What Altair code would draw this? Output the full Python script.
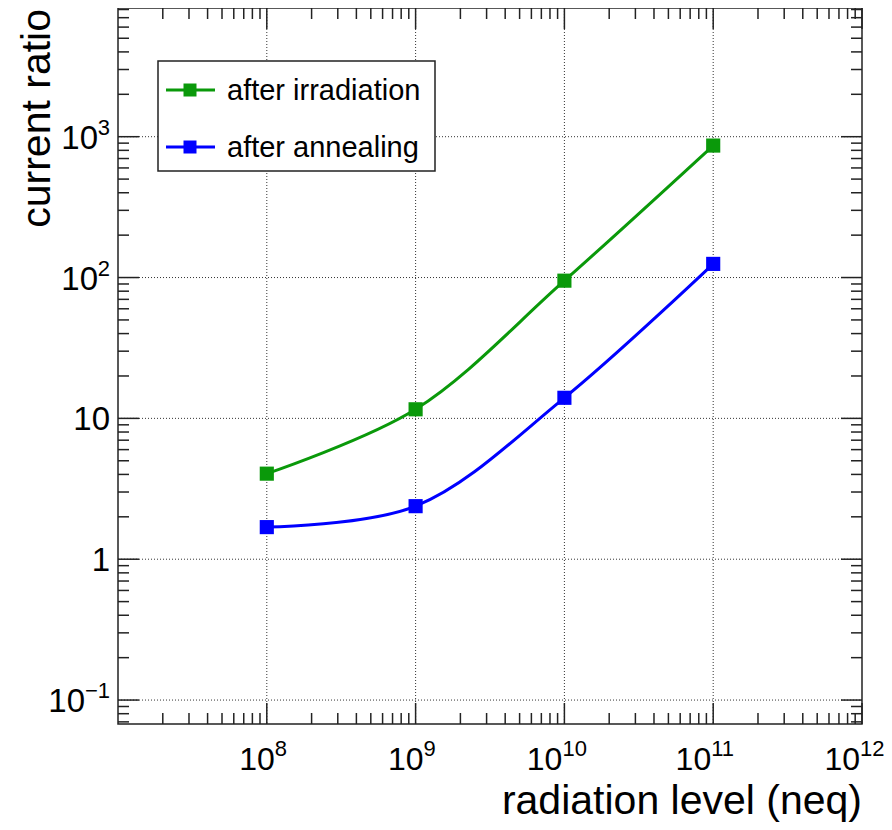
import altair as alt
import pandas as pd

# ---- data ----
radiation_level = [1e8, 1e9, 1e10, 1e11]
after_irradiation = [4.05, 11.6, 95.0, 865.0]
after_annealing = [1.69, 2.38, 14.0, 125.0]
series_names = ["after irradiation", "after annealing"]
series_colors = ["#0a990a", "#0000ff"]

x_major = [1e8, 1e9, 1e10, 1e11, 1e12]
x_tick_base = ["10", "10", "10", "10", "10"]
x_tick_exp = ["8", "9", "10", "11", "12"]
y_major = [0.1, 1, 10, 100, 1000]
y_tick_base = ["10", "1", "10", "10", "10"]
y_tick_exp = ["−1", "", "", "2", "3"]
x_title = "radiation level (neq)"
y_title = "current ratio"

# ---- style / layout ----
X_DOMAIN = [1e7, 1e12]
Y_DOMAIN = [0.0676, 8200]
W, H = 744, 716
FONT = "Liberation Sans"
FRAME = "#222222"
MAJ, MIN = 21, 11
XBASE_FS, YBASE_FS, EXP_FS = 32, 33, 22
EXP_RAISE = -14

x_minor = [k * 10.0 ** e for e in range(7, 12) for k in range(2, 10)]
y_minor = [k * 10.0 ** e for e in range(-2, 4) for k in range(2, 10)
           if Y_DOMAIN[0] <= k * 10.0 ** e <= Y_DOMAIN[1]]

xs = alt.Scale(type="log", domain=X_DOMAIN, nice=False)
ys = alt.Scale(type="log", domain=Y_DOMAIN, nice=False)


def X(f):
    return alt.X(f, type="quantitative", scale=xs, axis=None)


def Y(f):
    return alt.Y(f, type="quantitative", scale=ys, axis=None)


rows = []
for name, vals in zip(series_names, [after_irradiation, after_annealing]):
    for xv, yv in zip(radiation_level, vals):
        rows.append({"series": name, "radiation": xv, "ratio": yv})
df = pd.DataFrame(rows)

layers = []

# grid
layers.append(
    alt.Chart(pd.DataFrame({"v": x_major[:-1]})).mark_rule(
        color="#333333", strokeWidth=1, strokeDash=[1, 2]
    ).encode(x=X("v"), y=alt.value(0), y2=alt.value(H))
)
layers.append(
    alt.Chart(pd.DataFrame({"v": y_major})).mark_rule(
        color="#333333", strokeWidth=1, strokeDash=[1, 2]
    ).encode(y=Y("v"), x=alt.value(0), x2=alt.value(W))
)

# inward ticks on all four sides
for vals, ln in [(x_major, MAJ), (x_minor, MIN)]:
    d = pd.DataFrame({"v": vals})
    layers.append(alt.Chart(d).mark_rule(color=FRAME, strokeWidth=1.5).encode(
        x=X("v"), y=alt.value(H), y2=alt.value(H - ln)))
    layers.append(alt.Chart(d).mark_rule(color=FRAME, strokeWidth=1.5).encode(
        x=X("v"), y=alt.value(0), y2=alt.value(ln)))
for vals, ln in [(y_major, MAJ), (y_minor, MIN)]:
    d = pd.DataFrame({"v": vals})
    layers.append(alt.Chart(d).mark_rule(color=FRAME, strokeWidth=1.5).encode(
        y=Y("v"), x=alt.value(0), x2=alt.value(ln)))
    layers.append(alt.Chart(d).mark_rule(color=FRAME, strokeWidth=1.5).encode(
        y=Y("v"), x=alt.value(W), x2=alt.value(W - ln)))

color = alt.Color("series:N", scale=alt.Scale(domain=series_names, range=series_colors), legend=None)

layers.append(
    alt.Chart(df).mark_line(interpolate="catmull-rom", strokeWidth=3).encode(
        x=X("radiation"), y=Y("ratio"), color=color, detail="series:N")
)
layers.append(
    alt.Chart(df).mark_square(size=200, opacity=1, filled=True).encode(
        x=X("radiation"), y=Y("ratio"), color=color)
)

# x tick labels: "10" + raised exponent, whole label centred on the tick
xlab = pd.DataFrame({"v": x_major, "b": x_tick_base, "e": x_tick_exp})
for n, split in [(1, 8), (2, -2)]:
    base = alt.Chart(xlab).transform_filter(f"length(datum.e) == {n}")
    layers.append(base.mark_text(
        font=FONT, fontSize=XBASE_FS, align="right", baseline="alphabetic", color="black", dx=split
    ).encode(x=X("v"), y=alt.value(H + 46), text="b:N"))
    layers.append(base.mark_text(
        font=FONT, fontSize=EXP_FS, align="left", baseline="alphabetic", color="black",
        dx=split, dy=EXP_RAISE
    ).encode(x=X("v"), y=alt.value(H + 46), text="e:N"))

# y tick labels: right aligned, exponent after base
ylab = pd.DataFrame({"v": y_major, "b": y_tick_base, "e": y_tick_exp})
for n, ew in [(0, 0), (1, 12), (2, 25)]:
    base = alt.Chart(ylab).transform_filter(f"length(datum.e) == {n}")
    layers.append(base.mark_text(
        font=FONT, fontSize=YBASE_FS, align="right", baseline="alphabetic", color="black",
        dx=-ew, dy=12
    ).encode(y=Y("v"), x=alt.value(-8), text="b:N"))
    if n:
        layers.append(base.mark_text(
            font=FONT, fontSize=EXP_FS, align="right", baseline="alphabetic", color="black",
            dy=12 + EXP_RAISE
        ).encode(y=Y("v"), x=alt.value(-8), text="e:N"))

# axis titles
layers.append(
    alt.Chart(pd.DataFrame({"t": [x_title]})).mark_text(
        font=FONT, fontSize=41, align="right", baseline="alphabetic", color="black"
    ).encode(x=alt.value(W), y=alt.value(806), text="t:N")
)
layers.append(
    alt.Chart(pd.DataFrame({"t": [y_title]})).mark_text(
        font=FONT, fontSize=41, align="right", baseline="alphabetic", color="black", angle=270
    ).encode(x=alt.value(-68), y=alt.value(1), text="t:N")
)

# legend box
layers.append(
    alt.Chart(pd.DataFrame({"a": [0]})).mark_rect(
        fill="white", stroke=FRAME, strokeWidth=1.5
    ).encode(x=alt.value(40), x2=alt.value(317), y=alt.value(53), y2=alt.value(163))
)
for i, (name, col) in enumerate(zip(series_names, series_colors)):
    ly = 82 + i * 57
    one = pd.DataFrame({"t": [name]})
    layers.append(alt.Chart(one).mark_rule(color=col, strokeWidth=3).encode(
        x=alt.value(48), x2=alt.value(97), y=alt.value(ly)))
    layers.append(alt.Chart(one).mark_square(color=col, size=169, opacity=1, filled=True).encode(
        x=alt.value(72), y=alt.value(ly)))
    layers.append(alt.Chart(one).mark_text(
        font=FONT, fontSize=29, align="left", baseline="alphabetic", color="black"
    ).encode(x=alt.value(109), y=alt.value(ly + 10), text="t:N"))

chart = alt.layer(*layers).properties(
    width=W,
    height=H,
    autosize=alt.AutoSizeParams(type="none"),
    padding={"left": 110, "top": 0, "right": 22, "bottom": 98},
).configure_view(stroke=FRAME, strokeWidth=1.5)

chart.save("out.html", embed_options={"renderer": "svg", "actions": False})
